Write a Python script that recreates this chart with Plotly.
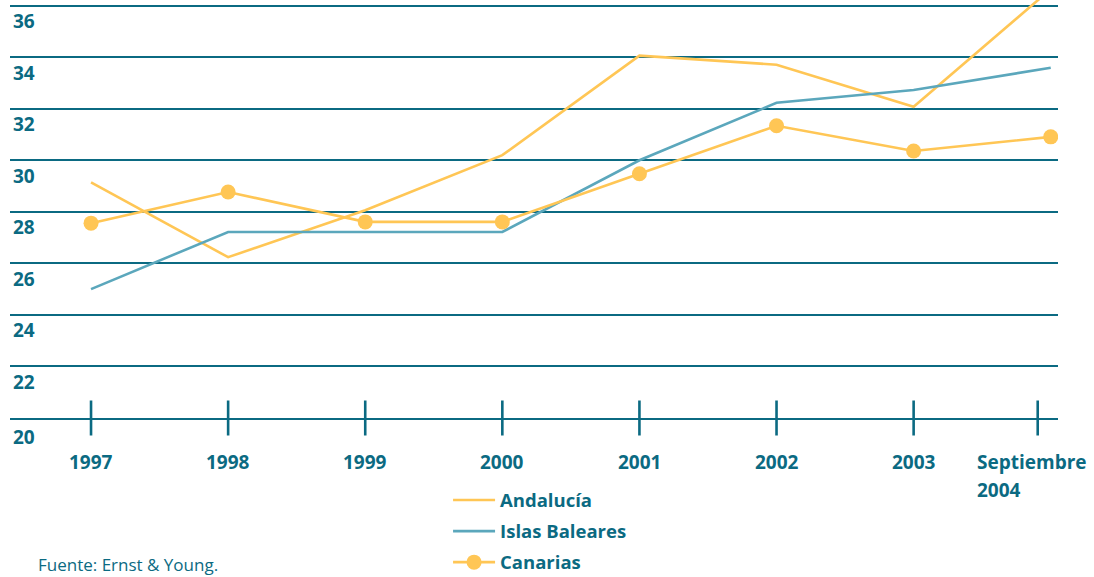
import plotly.graph_objects as go

# Data
categories = ["1997", "1998", "1999", "2000", "2001", "2002", "2003", "Septiembre 2004"]
x_idx = list(range(len(categories)))
andalucia = [29.14, 26.24, 28.06, 30.2, 34.06, 33.71, 32.08, 36.64]
baleares = [25.0, 27.22, 27.22, 27.22, 30.0, 32.23, 32.73, 33.59]
canarias = [27.56, 28.77, 27.61, 27.61, 29.48, 31.34, 30.36, 30.91]
tick_pos = [0, 1, 2, 3, 4, 5, 6, 6.905]
y_ticks = [20, 22, 24, 26, 28, 30, 32, 34, 36]

TEAL = "#0b6a82"
YELLOW = "#ffc655"
BLUE = "#5ba7bc"
FONT = "Open Sans"
LAB = dict(family=FONT, size=19, color=TEAL, weight="bold")

fig = go.Figure()
fig.add_trace(go.Scatter(x=x_idx, y=andalucia, mode="lines", name="Andalucía",
                         legendgroup="a", line=dict(color=YELLOW, width=2.6)))
fig.add_trace(go.Scatter(x=x_idx, y=baleares, mode="lines", name="Islas Baleares",
                         legendgroup="b", line=dict(color=BLUE, width=2.6)))
fig.add_trace(go.Scatter(x=x_idx, y=canarias, mode="lines+markers", name="Canarias",
                         legendgroup="c", line=dict(color=YELLOW, width=2.6),
                         marker=dict(color=YELLOW, size=15)))
# axis tick marks crossing the baseline
fig.add_trace(go.Scatter(x=tick_pos, y=[20] * len(tick_pos), mode="markers",
                         showlegend=False, hoverinfo="skip", cliponaxis=False,
                         marker=dict(symbol="line-ns", size=25,
                                     line=dict(color=TEAL, width=2.6))))

annotations = []
for v in y_ticks:
    annotations.append(dict(xref="paper", x=0, xanchor="left", xshift=1,
                            yref="y", y=v, yanchor="middle",
                            yshift=-19 if v == 20 else -15.5,
                            text=str(v), showarrow=False, font=LAB))
for p, lab in zip(tick_pos[:-1], categories[:-1]):
    annotations.append(dict(xref="x", x=p, xanchor="center", yref="paper", y=0,
                            yanchor="middle", yshift=-43.5, text=lab, showarrow=False,
                            font=LAB))
last_words = categories[-1].split(" ")
for i, w in enumerate(last_words):
    annotations.append(dict(xref="x", x=tick_pos[-1], xanchor="left", xshift=-63,
                            yref="paper", y=0, yanchor="middle", yshift=-43.5 - 28 * i,
                            text=w, showarrow=False, font=LAB))
annotations.append(dict(xref="paper", x=0, xanchor="left", xshift=26,
                        yref="paper", y=0, yanchor="middle", yshift=-146,
                        text="Fuente: Ernst & Young.", showarrow=False,
                        font=dict(family=FONT, size=17, color=TEAL)))

fig.update_layout(
    width=1094, height=577,
    margin=dict(l=10, r=36, t=0, b=159.3, autoexpand=False),
    paper_bgcolor="white", plot_bgcolor="white",
    font=dict(family=FONT, color=TEAL),
    xaxis=dict(range=[-0.591, 7.053], showgrid=False, zeroline=False,
               showticklabels=False, showline=True, linecolor=TEAL, linewidth=2.2,
               fixedrange=True),
    yaxis=dict(range=[20, 36.22], tickvals=y_ticks, showticklabels=False,
               showgrid=True, gridcolor=TEAL, gridwidth=2.2, zeroline=False,
               showline=False, fixedrange=True),
    legend=dict(x=0.418, xanchor="left", y=-0.152, yanchor="top", itemwidth=42,
                font=dict(family=FONT, size=18.5, color=TEAL, weight="bold"),
                bgcolor="rgba(0,0,0,0)", tracegroupgap=4),
    annotations=annotations,
    showlegend=True,
)

fig.write_html("out.html", config={"displayModeBar": False},
               post_script="document.body.style.margin='0';document.body.style.overflow='hidden';")
